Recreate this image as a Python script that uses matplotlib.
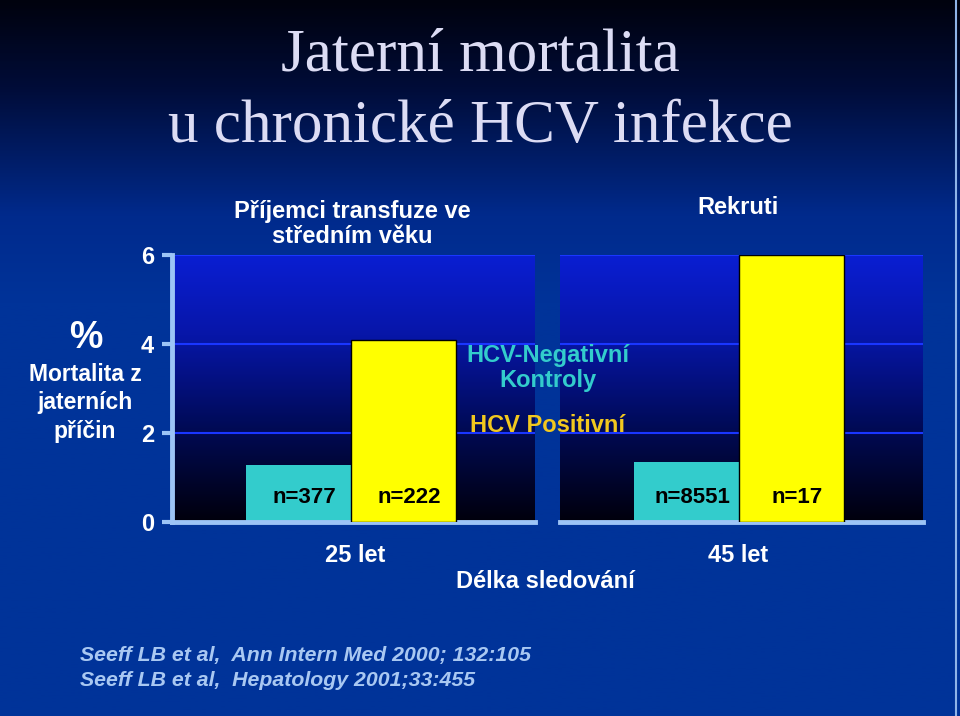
import numpy as np
import matplotlib
matplotlib.use("Agg")
import matplotlib.pyplot as plt
from matplotlib.colors import LinearSegmentedColormap

# data
groups = ["25 let", "45 let"]
panel_titles = ["Příjemci transfuze ve\nstředním věku", "Rekruti"]
negative = [1.27, 1.35]   # HCV-negativni kontroly
positive = [4.1, 6.0]     # HCV positivni
n_neg = ["n=377", "n=8551"]
n_pos = ["n=222", "n=17"]
yticks = [0, 2, 4, 6]

W, H = 960, 716
fig = plt.figure(figsize=(W / 100, H / 100), dpi=100)

def fx(px):
    return px / W

def fy(py):
    return 1 - py / H

# slide background
bg = fig.add_axes([0, 0, 1, 1])
slide_cmap = LinearSegmentedColormap.from_list(
    "slide", [(0, "#00020e"), (0.12, "#000c38"), (0.3, "#002a8c"), (0.42, "#003399"), (1, "#003399")])
bg.imshow(np.linspace(0, 1, 256).reshape(-1, 1), cmap=slide_cmap, aspect="auto", extent=[0, 1, 0, 1])
bg.set_xlim(0, 1)
bg.set_ylim(0, 1)
bg.axis("off")
bg.axvline(0.996, color="#8fb4e8", lw=1.5)

plot_cmap = LinearSegmentedColormap.from_list(
    "plot", [(0, "#00000c"), (0.35, "#000a55"), (0.7, "#0716a8"), (1, "#0a1ed2")])

sans = "Liberation Sans"
light = "#9cc4f6"
cyan = "#33cccc"
yellow = "#ffff00"
fs = 17

lefts = [172, 560]
for i in range(2):
    ax = fig.add_axes([fx(lefts[i]), fy(522), fx(363), 267 / H])
    ax.set_xlim(-1.21, 2.25)
    ax.set_ylim(0, 6)
    ax.imshow(np.linspace(0, 1, 256).reshape(-1, 1), cmap=plot_cmap, origin="lower",
              aspect="auto", extent=[-1.21, 2.25, 0, 6], zorder=0)
    for t in yticks[1:]:
        ax.axhline(t, color="#1a36ff", lw=1.5, zorder=1)
    ax.bar(0, negative[i], width=1.0, color=cyan, zorder=2)
    ax.bar(1, positive[i], width=1.0, color=yellow, edgecolor="black", lw=1, zorder=3)
    ax.text(0.05, 0.55, n_neg[i], ha="center", va="center", fontsize=16,
            fontweight="bold", family=sans, color="black", zorder=4)
    ax.text(1.05, 0.55, n_pos[i], ha="center", va="center", fontsize=16,
            fontweight="bold", family=sans, color="black", zorder=4)
    for s in ["top", "right"]:
        ax.spines[s].set_visible(False)
    ax.spines["bottom"].set_color(light)
    ax.spines["bottom"].set_linewidth(3.5)
    ax.set_xticks([])
    if i == 0:
        ax.spines["left"].set_color(light)
        ax.spines["left"].set_linewidth(3.5)
        ax.set_yticks(yticks)
        ax.tick_params(axis="y", colors=light, length=7, width=3, pad=6)
        for lab in ax.get_yticklabels():
            lab.set_color("white")
            lab.set_fontsize(fs)
            lab.set_fontweight("bold")
            lab.set_family(sans)
    else:
        ax.spines["left"].set_visible(False)
        ax.set_yticks([])
    ax.set_clip_on(False)

# title
fig.text(0.5, fy(56), "Jaterní mortalita", ha="center", va="center",
         fontsize=44, family="Liberation Serif", color="#dcdcf4")
fig.text(0.5, fy(127), "u chronické HCV infekce", ha="center", va="center",
         fontsize=44, family="Liberation Serif", color="#dcdcf4")

# panel titles
fig.text(fx(352), fy(224), panel_titles[0], ha="center", va="center", fontsize=fs,
         fontweight="bold", family=sans, color="white", linespacing=1.15)
fig.text(fx(738), fy(208), panel_titles[1], ha="center", va="center", fontsize=fs,
         fontweight="bold", family=sans, color="white")

# y label
fig.text(fx(86), fy(338), "%", ha="center", va="center", fontsize=27,
         fontweight="bold", family=sans, color="white")
fig.text(fx(85), fy(403), "Mortalita z\njaterních\npříčin", ha="center", va="center",
         fontsize=16.5, fontweight="bold", family=sans, color="white", linespacing=1.28)

# legend text
fig.text(fx(548), fy(368), "HCV-Negativní\nKontroly", ha="center", va="center",
         fontsize=fs, fontweight="bold", family=sans, color=cyan, linespacing=1.1)
fig.text(fx(548), fy(426), "HCV Positivní", ha="center", va="center",
         fontsize=fs, fontweight="bold", family=sans, color="#f2c81e")

# x labels
fig.text(fx(355), fy(556), groups[0], ha="center", va="center", fontsize=fs,
         fontweight="bold", family=sans, color="white")
fig.text(fx(738), fy(556), groups[1], ha="center", va="center", fontsize=fs,
         fontweight="bold", family=sans, color="white")
fig.text(fx(545), fy(581), "Délka sledování", ha="center", va="center", fontsize=fs,
         fontweight="bold", family=sans, color="white")

# references
fig.text(fx(80), fy(655), "Seeff LB et al,  Ann Intern Med 2000; 132:105", ha="left",
         va="center", fontsize=15.3, fontweight="bold", style="italic", family=sans, color="#a9c8f2")
fig.text(fx(80), fy(680), "Seeff LB et al,  Hepatology 2001;33:455", ha="left",
         va="center", fontsize=15.3, fontweight="bold", style="italic", family=sans, color="#a9c8f2")

fig.savefig("out.png", dpi=100)
